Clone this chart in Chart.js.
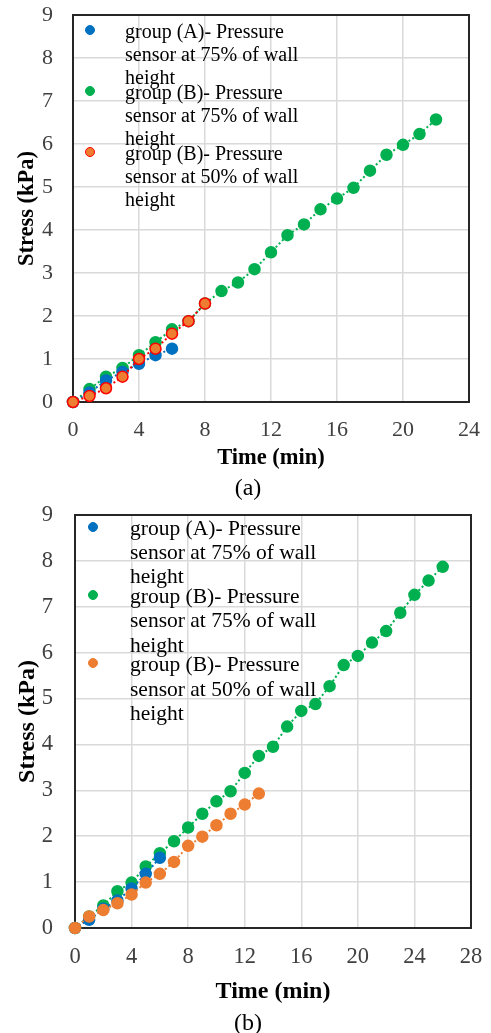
<!DOCTYPE html>
<html>
<head>
<meta charset="utf-8">
<script src="https://cdn.jsdelivr.net/npm/chart.js@4.4.1/dist/chart.umd.min.js"></script>
<style>
  body { margin: 0; background: #fff; }
  #page { position: relative; width: 491px; height: 1033px; overflow: hidden; font-family: 'Liberation Serif', 'Times New Roman', serif; }
  canvas { position: absolute; left: 0; }
  .dot { position: absolute; border-radius: 50%; box-sizing: border-box; }
  .txt { position: absolute; white-space: nowrap; color: #000; }
  .cap { position: absolute; width: 100px; text-align: center; font-size: 24px; line-height: 28px; color: #000; }
</style>
</head>
<body>
<div id="page">
  <canvas id="chartA" width="491" height="475" style="top:0"></canvas>
  <canvas id="chartB" width="491" height="509" style="top:500px"></canvas>
  <div id="legendA"></div>
  <div id="legendB"></div>
  <div class="cap" style="left:198px;top:473px">(a)</div>
  <div class="cap" style="left:198px;top:1008px">(b)</div>
</div>
<script>
// ---- data: chart (a) ----
const minutesA_A75 = [0, 1, 2, 3, 4, 5, 6];
const stressA_A75  = [0, 0.22, 0.5, 0.7, 0.89, 1.09, 1.24];
const minutesA_B75 = [0, 1, 2, 3, 4, 5, 6, 7, 8, 9, 10, 11, 12, 13, 14, 15, 16, 17, 18, 19, 20, 21, 22];
const stressA_B75  = [0, 0.3, 0.59, 0.79, 1.09, 1.39, 1.69, 1.88, 2.29, 2.58, 2.78, 3.09, 3.48, 3.88, 4.13, 4.48, 4.73, 4.98, 5.38, 5.75, 5.98, 6.23, 6.57];
const minutesA_B50 = [0, 1, 2, 3, 4, 5, 6, 7, 8];
const stressA_B50  = [0, 0.14, 0.32, 0.59, 1.0, 1.24, 1.59, 1.88, 2.29];

// ---- data: chart (b) ----
const minutesB_A75 = [0, 1, 2, 3, 4, 5, 6];
const stressB_A75  = [0, 0.18, 0.42, 0.6, 0.86, 1.18, 1.53];
const minutesB_B75 = [0, 1, 2, 3, 4, 5, 6, 7, 8, 9, 10, 11, 12, 13, 14, 15, 16, 17, 18, 19, 20, 21, 22, 23, 24, 25, 26];
const stressB_B75  = [0, 0.25, 0.49, 0.8, 0.99, 1.34, 1.63, 1.89, 2.19, 2.49, 2.76, 2.98, 3.38, 3.75, 3.95, 4.39, 4.73, 4.88, 5.27, 5.73, 5.93, 6.22, 6.47, 6.87, 7.26, 7.57, 7.87];
const minutesB_B50 = [0, 1, 2, 3, 4, 5, 6, 7, 8, 9, 10, 11, 12, 13];
const stressB_B50  = [0, 0.25, 0.39, 0.54, 0.73, 0.99, 1.18, 1.44, 1.79, 1.99, 2.24, 2.49, 2.69, 2.93];

// axis ranges / ticks
const xMaxA = 24, xMaxB = 28, xStep = 4;
const yMax = 9, yStep = 1;

const legendLabels = [
  ['group (A)- Pressure', 'sensor at 75% of wall', 'height'],
  ['group (B)- Pressure', 'sensor at 75% of wall', 'height'],
  ['group (B)- Pressure', 'sensor at 50% of wall', 'height']
];

const BLUE = '#0070C0', GREEN = '#00B050', RED = '#FF0000', ORANGE = '#ED7D31';
const FONT = "'Liberation Serif', 'Times New Roman', serif";

const toPts = (xs, ys) => xs.map((x, i) => ({ x, y: ys[i] }));

function series(data, stroke, fill, order) {
  return {
    data,
    showLine: true,
    borderColor: stroke,
    borderWidth: 2,
    borderDash: [2, 2.5],
    pointRadius: 5.5,
    pointBorderWidth: 1.5,
    pointBackgroundColor: fill,
    pointBorderColor: stroke,
    clip: false,
    order
  };
}

// dark frame round the plot area
const framePlugin = {
  id: 'frame',
  beforeDatasetsDraw(chart) {
    const { ctx, chartArea: a } = chart;
    ctx.save();
    ctx.strokeStyle = '#262626';
    ctx.lineWidth = 2;
    ctx.strokeRect(a.left, a.top, a.right - a.left, a.bottom - a.top);
    ctx.restore();
  }
};

function makeChart(id, datasets, o) {
  return new Chart(document.getElementById(id), {
    type: 'scatter',
    data: { datasets },
    plugins: [framePlugin],
    options: {
      responsive: false,
      animation: false,
      events: [],
      layout: { padding: { top: o.top, right: o.right, left: 0, bottom: 0 } },
      plugins: { legend: { display: false }, tooltip: { enabled: false } },
      scales: {
        x: {
          type: 'linear', min: 0, max: o.xMax,
          afterFit: s => { s.height = o.xH; s.paddingLeft = 0; s.paddingRight = 0; },
          grid: { color: '#d9d9d9', lineWidth: 1.5, drawTicks: false },
          border: { display: false },
          ticks: { stepSize: xStep, padding: o.xPad, color: '#404040', font: { family: FONT, size: o.tick } },
          title: { display: true, text: 'Time (min)', color: '#000', padding: { top: 0, bottom: o.xTitlePad }, font: { family: FONT, size: o.title, weight: 'bold' } }
        },
        y: {
          min: 0, max: yMax,
          afterFit: s => { s.width = o.yW; s.paddingTop = 0; s.paddingBottom = 0; },
          grid: { color: '#d9d9d9', lineWidth: 1.5, drawTicks: false },
          border: { display: false },
          ticks: { stepSize: yStep, padding: o.yPad, color: '#404040', font: { family: FONT, size: o.tick } },
          title: { display: true, text: 'Stress (kPa)', color: '#000', padding: { top: o.yTitlePad, bottom: 0 }, font: { family: FONT, size: o.title, weight: 'bold' } }
        }
      }
    }
  });
}

function renderLegend(el, items, o) {
  items.forEach((it, i) => {
    const cy = o.y0 + i * o.gap;
    const dot = document.createElement('div');
    dot.className = 'dot';
    dot.style.cssText = `left:${o.dotX - 5}px;top:${cy - 5}px;width:10px;height:10px;background:${it.fill};border:1.5px solid ${it.stroke}`;
    el.appendChild(dot);
    const t = document.createElement('div');
    t.className = 'txt';
    t.style.cssText = `left:${o.textX}px;top:${cy - o.lh / 2 + 1.5}px;font-size:${o.size}px;line-height:${o.lh}px`;
    t.innerHTML = legendLabels[i].join('<br>');
    el.appendChild(t);
  });
}

makeChart('chartA', [
  series(toPts(minutesA_A75, stressA_A75), BLUE, BLUE, 2),
  series(toPts(minutesA_B75, stressA_B75), GREEN, GREEN, 3),
  series(toPts(minutesA_B50, stressA_B50), RED, ORANGE, 1)
], { top: 15, right: 22, xMax: xMaxA, xH: 73, yW: 73, xPad: 15, yPad: 20, tick: 22, title: 22.5, xTitlePad: 3.5, yTitlePad: 14 });

makeChart('chartB', [
  series(toPts(minutesB_A75, stressB_A75), BLUE, BLUE, 2),
  series(toPts(minutesB_B75, stressB_B75), GREEN, GREEN, 3),
  series(toPts(minutesB_B50, stressB_B50), ORANGE, ORANGE, 1)
], { top: 15, right: 20, xMax: xMaxB, xH: 81, yW: 75, xPad: 16, yPad: 22, tick: 22.5, title: 24, xTitlePad: 2.6, yTitlePad: 13 });

renderLegend(document.getElementById('legendA'), [
  { stroke: BLUE, fill: BLUE }, { stroke: GREEN, fill: GREEN }, { stroke: RED, fill: ORANGE }
], { y0: 30, gap: 61, dotX: 90, textX: 125, size: 20, lh: 23.2 });

renderLegend(document.getElementById('legendB'), [
  { stroke: BLUE, fill: BLUE }, { stroke: GREEN, fill: GREEN }, { stroke: ORANGE, fill: ORANGE }
], { y0: 526.5, gap: 68.3, dotX: 93, textX: 130, size: 21.5, lh: 24.3 });
</script>
</body>
</html>
